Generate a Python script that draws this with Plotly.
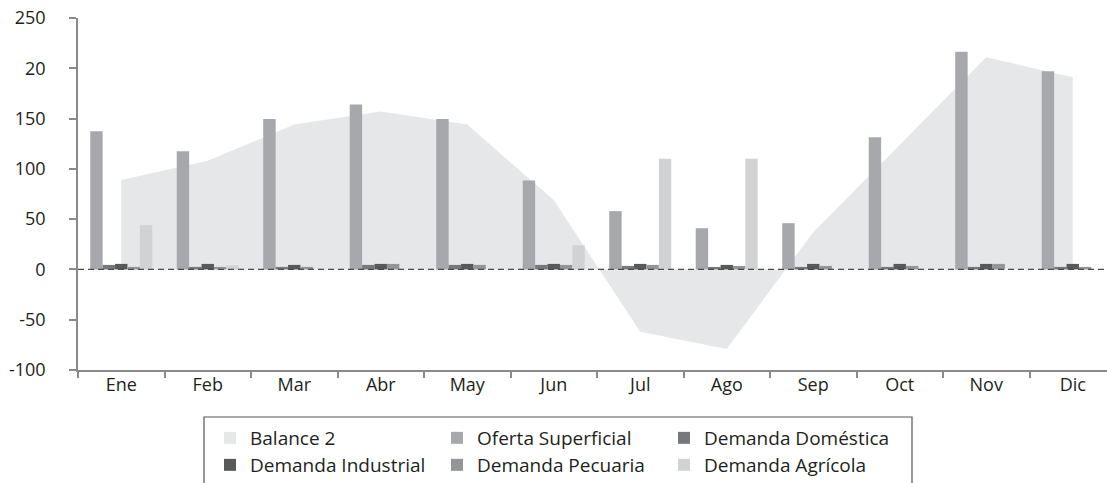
import plotly.graph_objects as go

months = ["Ene", "Feb", "Mar", "Abr", "May", "Jun", "Jul", "Ago", "Sep", "Oct", "Nov", "Dic"]
balance = [89, 108, 144, 157, 144, 69, -62, -79, 37, 124, 211, 191]
oferta = [137.5, 117.5, 149.5, 164, 149.5, 88.5, 58, 41, 46, 131.5, 216.5, 197]
domestica = [4.5, 2.5, 2.5, 4.5, 4.5, 4.5, 3.5, 2.5, 2.5, 2.5, 2.5, 2.5]
industrial = [5.5, 5.5, 4.5, 5.5, 5.5, 5.5, 5.5, 4.5, 5.5, 5.5, 5.5, 5.5]
pecuaria = [2.5, 2.5, 2.5, 5.5, 4.5, 4.5, 4.5, 3.5, 3.5, 3.5, 5.5, 2.5]
agricola = [44, 4, 0, 0, 0, 24, 110, 110, 0, 0, 0, 0]

ytick_vals = [-100, -50, 0, 50, 100, 150, 200, 250]
ytick_text = ["-100", "-50", "0", "50", "100", "150", "20", "250"]

C_BAL = "#e6e7e8"
C_OF = "#a7a8ab"
C_DOM = "#77787b"
C_IND = "#58595b"
C_PEC = "#939598"
C_AGR = "#d1d2d4"
TXT = "#231f20"
AX = "#8a8a8a"
FONT = "Open Sans"

fig = go.Figure()

# Area (behind bars, on base axis)
fig.add_trace(go.Scatter(x=months, y=balance, mode="none", fill="tozeroy",
                         fillcolor=C_BAL, name="Balance 2", showlegend=False,
                         hoverinfo="skip", xaxis="x", yaxis="y"))
# legend entry for the area
fig.add_trace(go.Scatter(x=[None], y=[None], mode="markers", name="Balance 2",
                         marker=dict(symbol="square", size=12, color=C_BAL),
                         legend="legend", xaxis="x", yaxis="y"))

bars = [
    ("Oferta Superficial", oferta, C_OF, "legend"),
    ("Demanda Doméstica", domestica, C_DOM, "legend"),
    ("Demanda Industrial", industrial, C_IND, "legend2"),
    ("Demanda Pecuaria", pecuaria, C_PEC, "legend2"),
    ("Demanda Agrícola", agricola, C_AGR, "legend2"),
]
for name, vals, col, lg in bars:
    fig.add_trace(go.Bar(x=months, y=vals, name=name, marker=dict(color=col, line=dict(width=0)),
                         legend=lg, xaxis="x", yaxis="y2"))

W, H = 1107, 483
ml, mr, mt, mb = 78, 0, 18, 113
pw = W - ml - mr
ph = H - mt - mb

def px_x(p):
    return (p - ml) / pw

def px_y(p):
    return (H - mb - p) / ph

fig.update_layout(
    width=W, height=H,
    margin=dict(l=ml, r=mr, t=mt, b=mb, autoexpand=False),
    paper_bgcolor="white", plot_bgcolor="white",
    font=dict(family=FONT, size=18, color=TXT),
    barmode="group", bargap=0.283, bargroupgap=0,
    xaxis=dict(type="category", range=[-0.5, 11.396], showgrid=False, zeroline=False,
               showline=True, linecolor=AX, linewidth=1.5, ticks="outside",
               tickson="boundaries", ticklen=6, tickcolor=AX, tickwidth=1.5,
               ticklabelstandoff=-2,
               tickfont=dict(size=18, color=TXT), fixedrange=True),
    yaxis=dict(range=[-100, 250], tickvals=ytick_vals, ticktext=ytick_text,
               showgrid=False, zeroline=False, showline=True, linecolor=AX, linewidth=1.5,
               ticks="outside", ticklen=7, tickcolor=AX, tickwidth=1.5,
               ticklabelstandoff=20, tickfont=dict(size=18, color=TXT)),
    yaxis2=dict(range=[-100, 250], overlaying="y", matches="y", visible=False),
    legend=dict(orientation="h", x=px_x(210), xanchor="left", y=px_y(419), yanchor="top",
                entrywidth=182, font=dict(size=19, color=TXT), bgcolor="rgba(0,0,0,0)",
                borderwidth=0, traceorder="normal"),
    legend2=dict(orientation="h", x=px_x(210), xanchor="left", y=px_y(446), yanchor="top",
                 entrywidth=182, font=dict(size=19, color=TXT), bgcolor="rgba(0,0,0,0)",
                 borderwidth=0, traceorder="normal"),
    showlegend=True,
    shapes=[
        dict(type="line", xref="paper", yref="y", x0=0, x1=1, y0=0, y1=0,
             line=dict(color="#4a4a4a", width=1.3, dash="6px,4px"), layer="above"),
        dict(type="rect", xref="paper", yref="paper", x0=px_x(204), x1=px_x(912),
             y0=px_y(417), y1=px_y(520), line=dict(color="#555555", width=1.2),
             fillcolor="rgba(0,0,0,0)", layer="above"),
    ],
)

fig.write_html("out.html", config={"displayModeBar": False},
               post_script="document.body.style.margin='0';document.body.style.padding='0';")
